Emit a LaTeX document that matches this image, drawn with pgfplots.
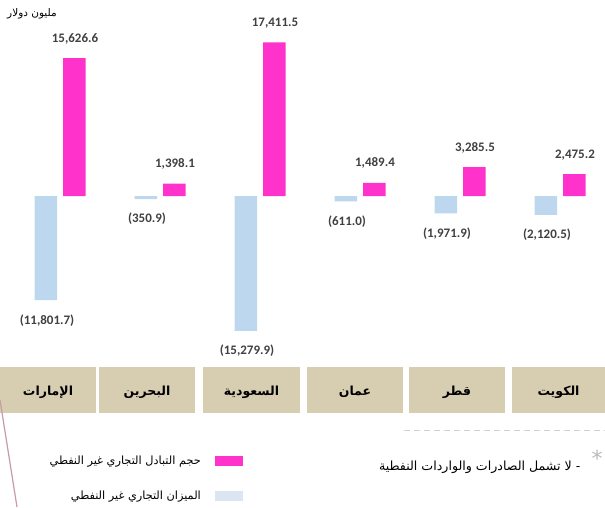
\documentclass[border=0pt]{standalone}
\usepackage{pgfplots}
\pgfplotsset{compat=1.18}
\usepackage{pgfplotstable}
\usepackage{fontspec}
\setmainfont{Carlito}
\newfontfamily\arabicfont[Script=Arabic]{DejaVu Sans}
\TeXXeTstate=1
\definecolor{pinkbar}{HTML}{FF33CC}
\definecolor{bluebar}{HTML}{BDD7EE}
\definecolor{bluelegend}{HTML}{DCE6F2}
\definecolor{beige}{HTML}{D7CEB2}
\definecolor{lbl}{HTML}{404040}
\definecolor{deco}{HTML}{C89AA4}

\pgfplotstableread{
x bal ballab vol vollab
0 -11801.7 (11,801.7) 15626.6 15,626.6
1 -350.9 (350.9) 1398.1 1,398.1
2 -15279.9 (15,279.9) 17411.5 17,411.5
3 -611.0 (611.0) 1489.4 1,489.4
4 -1971.9 (1,971.9) 3285.5 3,285.5
5 -2120.5 (2,120.5) 2475.2 2,475.2
}\datatable

\begin{document}
\begin{tikzpicture}
\useasboundingbox (0pt,0pt) rectangle (605pt,507pt);
\begin{axis}[
  at={(0pt,169.7pt)}, anchor=south west,
  width=605pt, height=300.2pt, scale only axis,
  xmin=-0.6, xmax=5.45, ymin=-16000, ymax=18000,
  axis lines=none, clip=false,
  legend style={at={(0.4017,-0.393)}, anchor=north east, draw=none, fill=none,
    inner sep=0pt, row sep=25pt,
    font=\arabicfont\fontsize{11.3}{13}\selectfont,
    nodes={inner sep=0pt, outer sep=0pt}},
  legend plot pos=right,
  legend cell align=right,
]
\addplot[ybar, bar width=22.5pt, bar shift=-14.25pt, fill=bluebar, draw=none, forget plot,
  nodes near coords, point meta=explicit symbolic,
  every node near coord/.append style={font=\bfseries\fontsize{13}{15}\selectfont, color=lbl, inner ysep=14pt, inner xsep=0pt, anchor=north, xshift=-13pt}
] table[x=x, y=bal, meta=ballab] {\datatable};
\addplot[ybar, bar width=22.5pt, bar shift=14.25pt, fill=pinkbar, draw=none, forget plot,
  nodes near coords, point meta=explicit symbolic,
  every node near coord/.append style={font=\bfseries\fontsize{13}{15}\selectfont, color=lbl, inner ysep=14pt, inner xsep=0pt, anchor=south, xshift=15pt}
] table[x=x, y=vol, meta=vollab] {\datatable};
\addlegendimage{legend image code/.code={\path[draw=none,fill=none] (0pt,-5pt) rectangle (42pt,5pt);\fill[pinkbar,draw=none] (14pt,-5pt) rectangle (42pt,5pt);}}
\addlegendentry{\beginR حجم التبادل التجاري غير النفطي\endR}
\addlegendimage{legend image code/.code={\path[draw=none,fill=none] (0pt,-5pt) rectangle (42pt,5pt);\fill[bluelegend,draw=none] (14pt,-5pt) rectangle (42pt,5pt);}}
\addlegendentry{\beginR الميزان التجاري غير النفطي\endR\hspace{7pt}}
\end{axis}

% title
\node[font=\arabicfont\fontsize{10.5}{12}\selectfont, color=black] at (32pt,493pt) {\beginR مليون دولار\endR};

% category boxes
\fill[beige] (0pt,94pt) rectangle (96pt,140pt);
\fill[beige] (99pt,94pt) rectangle (195pt,140pt);
\fill[beige] (203pt,94pt) rectangle (300pt,140pt);
\fill[beige] (307pt,94pt) rectangle (403pt,140pt);
\fill[beige] (409pt,94pt) rectangle (505pt,140pt);
\fill[beige] (512pt,94pt) rectangle (605pt,140pt);
\begin{scope}[every node/.style={font=\arabicfont\bfseries\fontsize{12.5}{14}\selectfont, color=black}]
\node at (48pt,115pt) {\beginR الإمارات\endR};
\node at (147pt,115pt) {\beginR البحرين\endR};
\node at (251.5pt,115pt) {\beginR السعودية\endR};
\node at (355pt,115pt) {\beginR عمان\endR};
\node at (457pt,115pt) {\beginR قطر\endR};
\node at (558.5pt,115pt) {\beginR الكويت\endR};
\end{scope}

% note
\draw[gray!35, line width=0.8pt, dash pattern=on 6pt off 4pt] (404pt,77pt) -- (605pt,77pt);
\node[color=gray!55, font=\arabicfont\fontsize{22}{22}\selectfont, anchor=base, inner sep=0pt] at (597pt,41pt) {*};
\node[anchor=east, font=\arabicfont\fontsize{12.6}{14}\selectfont, color=black] at (584pt,40pt) {\beginR - لا تشمل الصادرات والواردات النفطية\endR};

% decorative line
\draw[deco, line width=1.2pt] (0pt,107pt) -- (17pt,0pt);
\end{tikzpicture}
\end{document}
